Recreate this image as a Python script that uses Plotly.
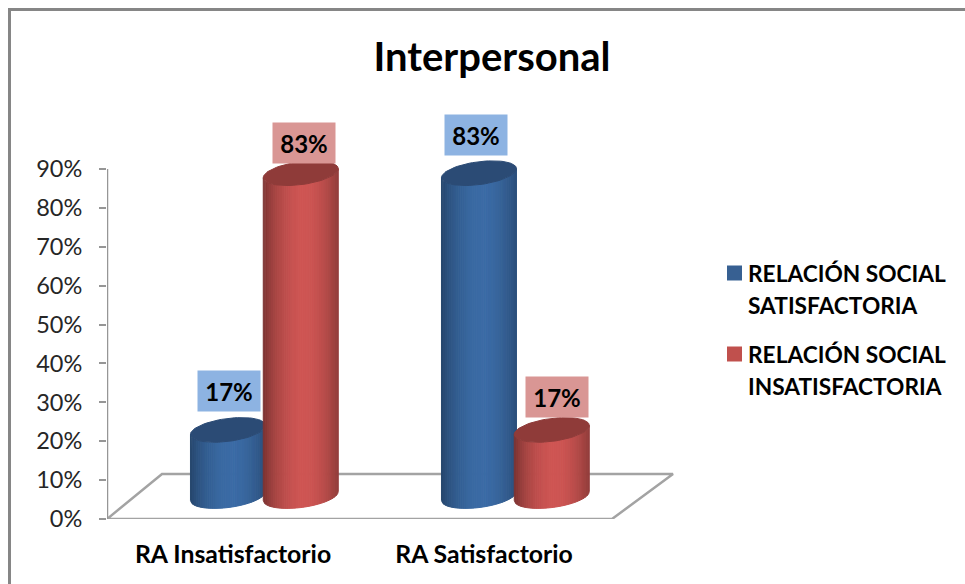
import numpy as np
import plotly.graph_objects as go

# Chart content
categories = ["RA Insatisfactorio", "RA Satisfactorio"]
satisfactoria = [0.17, 0.83]
insatisfactoria = [0.83, 0.17]
series_names = [["RELACIÓN SOCIAL", "SATISFACTORIA"], ["RELACIÓN SOCIAL", "INSATISFACTORIA"]]
y_ticks = [0, 0.1, 0.2, 0.3, 0.4, 0.5, 0.6, 0.7, 0.8, 0.9]

# Page and plot geometry
W, H = 965, 584
L, R, T, B = 107, 285, 100, 65
PX_PER_UNIT_Y = 389.0
PX_PER_CAT = 251.0
X_MIN = -126 / PX_PER_CAT
X_MAX = X_MIN + (W - L - R) / PX_PER_CAT
Y_MAX = (H - T - B) / PX_PER_UNIT_Y

# Cylinder shape, in axis units
BASE = 0.059
RADIUS = 37.5 / PX_PER_CAT
ELL_B = 11.5 / PX_PER_UNIT_Y
TILT = 4.5 / PX_PER_UNIT_Y
N_STRIPS = 36
FONT = "Lato"

BLUE = dict(edge_l=(36, 68, 106), mid=(59, 107, 165), edge_r=(34, 62, 98), cap="#2b4b75", box="#8db3e2", key="#376092")
RED = dict(edge_l=(120, 50, 48), mid=(206, 85, 83), edge_r=(110, 46, 44), cap="#8f3b39", box="#d99694", key="#c0504d")


def px(x):
    return (x - L) / (W - L - R)


def py(y):
    return 1 - (y - T) / (H - T - B)


def shade(u, s):
    k = np.cos(np.clip((u - 0.1) / 1.1, -1, 1) * np.pi / 2) ** 0.8
    edge = s["edge_r"] if u >= 0.1 else s["edge_l"]
    c = [int(round(e + (m - e) * k)) for e, m in zip(edge, s["mid"])]
    return f"rgb({c[0]},{c[1]},{c[2]})"


def cylinder(fig, cx, value, style):
    top = BASE + value
    edges = np.linspace(-1, 1, N_STRIPS + 1)
    for u0, u1 in zip(edges[:-1], edges[1:]):
        us = np.linspace(u0, u1, 4)
        low = BASE + TILT * us - ELL_B * np.sqrt(1 - us**2)
        high = top + TILT * us[::-1] - ELL_B * np.sqrt(1 - us[::-1] ** 2)
        colour = shade((u0 + u1) / 2, style)
        fig.add_trace(go.Scatter(
            x=np.r_[cx + RADIUS * us, cx + RADIUS * us[::-1], cx + RADIUS * us[0]],
            y=np.r_[low, high, low[0]],
            mode="lines", fill="toself", fillcolor=colour,
            line=dict(color=colour, width=1), hoverinfo="skip", showlegend=False, cliponaxis=False,
        ))
    t = np.linspace(0, 2 * np.pi, 73)
    fig.add_trace(go.Scatter(
        x=cx + RADIUS * np.cos(t),
        y=top + ELL_B * np.sin(t) + TILT * np.cos(t),
        mode="lines", fill="toself", fillcolor=style["cap"],
        line=dict(color=style["cap"], width=1), hoverinfo="skip", showlegend=False, cliponaxis=False,
    ))


fig = go.Figure()

# Floor of the 3D box and the value axis spine
FLOOR_BACK = 45 / PX_PER_UNIT_Y
fig.add_trace(go.Scatter(
    x=[X_MIN, X_MIN + 55 / PX_PER_CAT, X_MIN + 566 / PX_PER_CAT, X_MIN + 505 / PX_PER_CAT, X_MIN],
    y=[0, FLOOR_BACK, FLOOR_BACK, 0, 0],
    mode="lines", line=dict(color="#a3a3a3", width=2.5), hoverinfo="skip", showlegend=False, cliponaxis=False,
))
fig.add_trace(go.Scatter(
    x=[X_MIN, X_MIN], y=[0, max(y_ticks)],
    mode="lines", line=dict(color="#969696", width=2.5), hoverinfo="skip", showlegend=False, cliponaxis=False,
))

OFFSET_BLUE, OFFSET_RED = -0.02, 0.27
annotations = []
for i, _ in enumerate(categories):
    cylinder(fig, i + OFFSET_BLUE, satisfactoria[i], BLUE)
    cylinder(fig, i + OFFSET_RED, insatisfactoria[i], RED)

# Value labels: filled boxes floating above each cylinder
label_shift = {(0, 0): (1, 39), (0, 1): (3, 30), (1, 0): (-3, 38), (1, 1): (5, 33)}
for i in range(len(categories)):
    for j, (vals, off, st) in enumerate([(satisfactoria, OFFSET_BLUE, BLUE), (insatisfactoria, OFFSET_RED, RED)]):
        dx, dy = label_shift[(i, j)]
        annotations.append(dict(
            x=i + off, y=BASE + vals[i], xref="x", yref="y", xanchor="center", yanchor="middle",
            xshift=dx, yshift=dy, text=f"<b>{round(vals[i] * 100)}%</b>", showarrow=False,
            width=60, height=38, bgcolor=st["box"], font=dict(family=FONT, size=24, color="#000000"),
        ))

# Legend entries, one text line each
legend_rows = [(273, 305), (354, 386)]
shapes = []
for names, rows, st in zip(series_names, legend_rows, [BLUE, RED]):
    for line, y in zip(names, rows):
        annotations.append(dict(
            x=px(746), y=py(y), xref="paper", yref="paper", xanchor="left", yanchor="middle",
            text=f"<b>{line}</b>", showarrow=False, font=dict(family=FONT, size=22.7, color="#000000"),
        ))
    shapes.append(dict(
        type="rect", xref="paper", yref="paper", x0=px(727), x1=px(742),
        y0=py(rows[0] - 7.5), y1=py(rows[0] + 7.5), fillcolor=st["key"], line=dict(width=0),
    ))

# Chart frame: left and top edges only, the rest runs off the page
shapes.append(dict(
    type="path", xref="paper", yref="paper",
    path=f"M {px(9.5)} {py(H)} L {px(9.5)} {py(9.5)} L {px(W)} {py(9.5)}",
    line=dict(color="#868686", width=3),
))

fig.update_layout(
    width=W, height=H, margin=dict(l=L, r=R, t=T, b=B, autoexpand=False),
    paper_bgcolor="#ffffff", plot_bgcolor="#ffffff", showlegend=False,
    title=dict(
        text="<b>Interpersonal</b>", x=492 / W, y=1 - 57 / H, xanchor="center", yanchor="middle",
        font=dict(family=FONT, size=40, color="#000000"),
    ),
    xaxis=dict(
        range=[X_MIN, X_MAX], tickmode="array", tickvals=list(range(len(categories))),
        ticktext=[f"<b>{c}</b>" for c in categories], showgrid=False, zeroline=False, showline=False,
        ticks="", ticklabelstandoff=18, tickfont=dict(family=FONT, size=24.8, color="#000000"),
    ),
    yaxis=dict(
        range=[0, Y_MAX], tickmode="array", tickvals=y_ticks, tickformat=".0%", showgrid=False,
        zeroline=False, showline=False, ticks="outside", ticklen=7, tickwidth=2, tickcolor="#969696",
        ticklabelstandoff=12, tickfont=dict(family=FONT, size=23.5, color="#262626"),
    ),
    annotations=annotations, shapes=shapes,
)

fig.write_html("out.html")
